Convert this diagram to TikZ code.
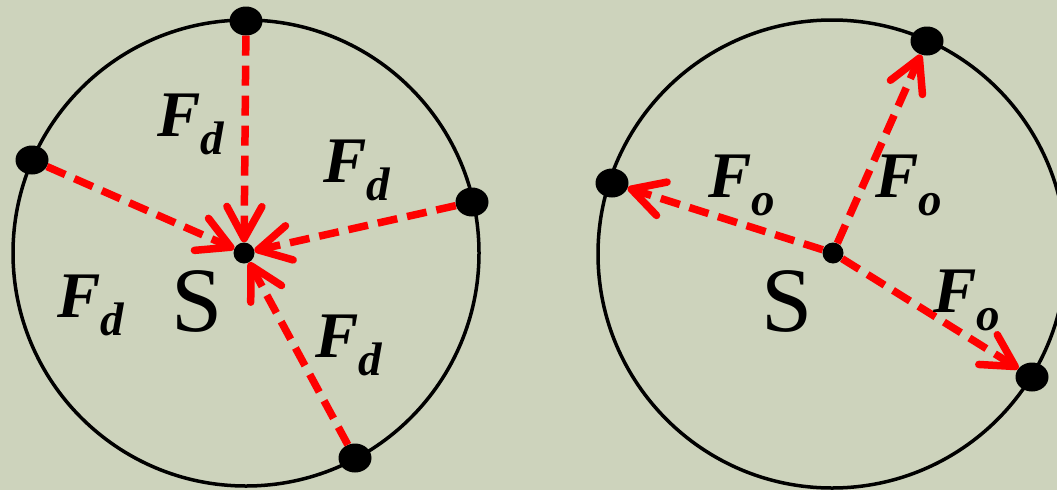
\documentclass[tikz,border=0pt]{standalone}
\usepackage{fontspec}
\setmainfont{Liberation Serif}
\usetikzlibrary{arrows.meta,shapes.geometric}
\definecolor{bg}{RGB}{205,211,188}
\definecolor{fred}{RGB}{255,0,0}
\tikzset{
 ring/.style={draw=black,line width=3.5pt},
 bigdot/.style={ellipse,fill=black,minimum width=33pt,minimum height=29pt,inner sep=0pt},
 cdot/.style={circle,fill=black,minimum size=21pt,inner sep=0pt},
 force/.style={draw=fred,line width=7.5pt,dash pattern=on 20pt off 10pt,-{Straight Barb[length=32pt,width=35pt,round]}},
 lab/.style={anchor=base west,inner sep=0pt},
 slab/.style={anchor=base,inner sep=0pt,font=\fontsize{92}{92}\selectfont},
}
\newcommand{\Fsub}[1]{{\fontsize{65}{65}\selectfont\bfseries\itshape F}\raisebox{-18pt}{\fontsize{47}{47}\selectfont\bfseries\itshape #1}}
\begin{document}
\begin{tikzpicture}[x=1pt,y=-1pt]
\fill[bg] (0,0) rectangle (1057,490);
\useasboundingbox (0,0) rectangle (1057,490);
\clip (0,0) rectangle (1057,490);
% left circle
\draw[ring] (246,253) circle[radius=233];
\node[cdot] (lc) at (244,253) {};
\node[bigdot] (lt) at (246,21) {};
\node[bigdot] (ll) at (32,160) {};
\node[bigdot] (lr) at (472,202) {};
\node[bigdot] (lb) at (355,458) {};
\draw[force] (lt) -- (lc);
\draw[force] (ll) -- (lc);
\draw[force] (lr) -- (lc);
\draw[force] (lb) -- (lc);
\node[lab] (ld1) at (157,136) {\Fsub{d}};
\node[lab] (ld2) at (323,182) {\Fsub{d}};
\node[lab] (ld3) at (57,317) {\Fsub{d}};
\node[lab] (ld4) at (315,357) {\Fsub{d}};
\node[slab] (ls) at (197,331) {S};
% right circle
\draw[ring] (832,254) circle[radius=234];
\node[cdot] (rc) at (833,253) {};
\node[bigdot] (rt) at (927,41) {};
\node[bigdot] (rl) at (612,183) {};
\node[bigdot] (rb) at (1032,377) {};
\draw[force] (rc) -- (rt);
\draw[force] (rc) -- (rl);
\draw[force] (rc) -- (rb);
\node[lab] (ro1) at (708,197) {\Fsub{o}};
\node[lab] (ro2) at (875,197) {\Fsub{o}};
\node[lab] (ro3) at (933,312) {\Fsub{o}};
\node[slab] (rs) at (787,331) {S};
\end{tikzpicture}
\end{document}
